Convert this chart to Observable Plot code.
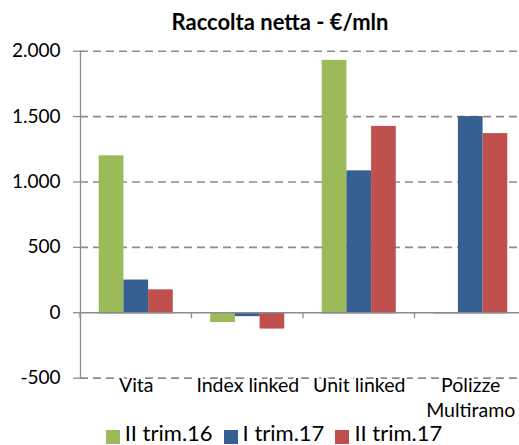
<!DOCTYPE html>
<html><head><meta charset="utf-8">
<script src="https://cdn.jsdelivr.net/npm/d3@7"></script>
<script src="https://cdn.jsdelivr.net/npm/@observablehq/plot@0.6"></script>
<style>
html,body{margin:0;padding:0;background:#fff}
body{width:519px;height:445px;overflow:hidden;position:relative;font-family:Lato,sans-serif;color:#000}
#title{position:absolute;top:9px;left:0;width:560px;text-align:center;font-weight:bold;font-size:22px;line-height:1.2;white-space:nowrap}
.layer{position:absolute;top:0;left:0}
#legend{position:absolute;top:421px;left:0;width:548px;display:flex;justify-content:center;align-items:center;height:24px;font-size:22px;line-height:24px;white-space:nowrap}
#legend .item{display:flex;align-items:center;margin:0 5.5px}
#legend .sw{width:14px;height:14px;margin-right:5px;position:relative;top:4px}
</style></head><body>
<div id="back" class="layer"></div>
<div id="front" class="layer"></div>
<div id="title">Raccolta netta - €/mln</div>
<div id="legend"></div>
<script>
const categories = ["Vita", "Index linked", "Unit linked", "Polizze Multiramo"];
const categoryLabels = ["Vita", "Index linked", "Unit linked", "Polizze\nMultiramo"];
const series = ["II trim.16", "I trim.17", "II trim.17"];
const seriesColors = ["#9BBB59", "#376092", "#C0504D"];
const valuesIITrim16 = [1200, -75, 1930, null];
const valuesITrim17 = [250, -30, 1085, 1500];
const valuesIITrim17 = [175, -125, 1425, 1370];
const yTicks = [-500, 0, 500, 1000, 1500, 2000];

const seriesValues = [valuesIITrim16, valuesITrim17, valuesIITrim17];
const rows = [];
categories.forEach((c, i) => {
  series.forEach((s, j) => {
    const v = seriesValues[j][i];
    if (v != null) rows.push({category: c, series: s, value: v});
  });
});
const labelOf = new Map(categories.map((c, i) => [c, categoryLabels[i]]));

const itLocale = d3.formatLocale({decimal: ",", thousands: ".", grouping: [3], currency: ["€", ""], minus: "-"});
const fmt = itLocale.format(",");
const gray = "#8c8c8c";

const common = {
  width: 519,
  height: 445,
  marginLeft: 80,
  marginRight: -7,
  marginTop: 50.7,
  marginBottom: 67.4,
  style: {fontFamily: "Lato, sans-serif", fontSize: "18px", color: "#000", background: "transparent"},
  y: {domain: [-500, 2000], axis: null}
};

// background layer: grid, axes, category labels
const back = Plot.plot({
  ...common,
  x: {type: "band", domain: categories, padding: 0, round: false, axis: null},
  marks: [
    Plot.ruleY(yTicks.filter(d => d !== 0), {stroke: gray, strokeWidth: 1.6, strokeDasharray: "8,5"}),
    Plot.ruleY([0], {stroke: gray, strokeWidth: 1.6}),
    Plot.frame({anchor: "left", stroke: gray, strokeWidth: 1.3}),
    Plot.axisY(yTicks, {anchor: "left", tickSize: 7, tickPadding: 13, tickFormat: fmt, stroke: gray, strokeWidth: 1.3, fill: "#000", fontSize: 19}),
    Plot.text(categories, {x: d => d, text: d => labelOf.get(d), frameAnchor: "bottom", lineAnchor: "top", dy: -4, lineHeight: 1.28, fontSize: 19.5, fill: "#000", stroke: "white", strokeWidth: 5})
  ]
});
document.getElementById("back").appendChild(back);

// category boundary ticks on the zero line, from the plot's own scales
const xs = back.scale("x");
const y0 = back.scale("y").apply(0);
const bounds = categories.map(c => xs.apply(c));
bounds.push(xs.apply(categories[categories.length - 1]) + xs.bandwidth);
d3.select(back).append("g").selectAll("line").data(bounds).join("line")
  .attr("x1", d => d).attr("x2", d => d).attr("y1", y0).attr("y2", y0 + 6)
  .attr("stroke", gray).attr("stroke-width", 1.3);

// front layer: grouped bars
const front = Plot.plot({
  ...common,
  fx: {domain: categories, paddingInner: 0.336, paddingOuter: 0.168, round: false, axis: null, label: null},
  x: {domain: series, padding: 0, round: false, axis: null},
  color: {domain: series, range: seriesColors},
  marks: [
    Plot.barY(rows, {fx: "category", x: "series", y: "value", fill: "series"}),
    Plot.ruleY([0], {stroke: gray, strokeWidth: 1.6})
  ]
});
document.getElementById("front").appendChild(front);

const legend = d3.select("#legend");
series.forEach((s, i) => {
  const item = legend.append("div").attr("class", "item");
  item.append("div").attr("class", "sw").style("background", seriesColors[i]);
  item.append("span").text(s);
});
</script>
</body></html>
